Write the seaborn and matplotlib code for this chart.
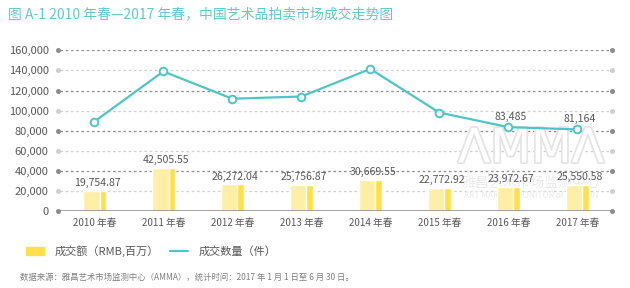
import numpy as np
import pandas as pd
import matplotlib.pyplot as plt
import seaborn as sns
from matplotlib import patheffects
from matplotlib.patches import Patch
from matplotlib.lines import Line2D

seasons = ['2010 年春', '2011 年春', '2012 年春', '2013 年春',
           '2014 年春', '2015 年春', '2016 年春', '2017 年春']
turnover = [19754.87, 42505.55, 26272.04, 25756.87,
            30669.55, 22772.92, 23972.67, 25550.58]
lots = [89000, 139000, 111800, 114000, 141500, 98000, 83485, 81164]
labelled_lots = [6, 7]  # only the last two points carry a label
yticks = [0, 20000, 40000, 60000, 80000, 100000, 120000, 140000, 160000]

title = '图 A-1 2010 年春—2017 年春，中国艺术品拍卖市场成交走势图'
source = '数据来源：雅昌艺术市场监测中心（AMMA），统计时间：2017 年 1 月 1 日至 6 月 30 日。'

sns.set_style('white')
plt.rcParams['font.family'] = ['Noto Sans CJK SC', 'DejaVu Sans']

teal = '#4EC5C7'
pale = '#FFEFA6'
gold = '#FFE04A'
grey = '#595959'

df = pd.DataFrame({'season': seasons, 'turnover': turnover, 'lots': lots})
x = np.arange(len(seasons))

fig = plt.figure(figsize=(6.3, 2.88), dpi=100)
ax = fig.add_axes([0.095, 0.268, 0.876, 0.557])

# gridlines, alternating dark / light, with a dot at each end
for i, t in enumerate(yticks[1:], start=1):
    c = '#8c8c8c' if i % 2 == 0 else '#cfcfcf'
    ax.axhline(t, color=c, lw=0.9, ls=(0, (2, 2.2)), zorder=0)
    ax.plot([-0.52, 7.5], [t, t], 'o', ms=2.6, color=c, clip_on=False, zorder=0)
ax.axhline(0, color='#8c8c8c', lw=1.1, zorder=3)
ax.plot([-0.52, 7.5], [0, 0], 'o', ms=2.6, color='#8c8c8c', clip_on=False, zorder=3)

# watermark
wm = fig.transFigure
ax.text(0.843, 0.48, 'ΛMMΛ', transform=wm, ha='center', va='center',
        fontsize=34, color='white', family='DejaVu Sans', zorder=0.5,
        path_effects=[patheffects.withStroke(linewidth=2.5, foreground='#e4e4e4')])
ax.text(0.843, 0.365, '雅昌艺术市场监测中心', transform=wm, ha='center', va='center',
        fontsize=10, color='#ebebeb', zorder=0.5)
ax.text(0.843, 0.32, 'ART MARKET MONITOR of ARTRON', transform=wm, ha='center',
        va='center', fontsize=6, color='#ebebeb', zorder=0.5)

sns.barplot(data=df, x='season', y='turnover', color=pale, saturation=1,
            width=0.33, ax=ax, zorder=1)
ax.bar(x + 0.12, turnover, width=0.09, color=gold, zorder=1)

sns.lineplot(x=x, y=lots, color=teal, lw=1.6, marker='o', markersize=5.5,
             markerfacecolor='white', markeredgecolor=teal, markeredgewidth=1.4,
             ax=ax, clip_on=False, zorder=4)

for i, v in enumerate(turnover):
    ax.text(i + 0.04, v + 2800, f'{v:,.2f}', ha='center', va='bottom',
            fontsize=7.6, color=grey, zorder=5)
for i in labelled_lots:
    ax.text(i + 0.04, lots[i] + 5000, f'{lots[i]:,}', ha='center', va='bottom',
            fontsize=7.6, color=grey, zorder=5)

ax.set_xlim(-0.5, 7.5)
ax.set_ylim(0, 160000)
ax.set_yticks(yticks)
ax.set_yticklabels([f'{t:,}' for t in yticks])
ax.tick_params(axis='y', length=0, pad=8, labelsize=8, labelcolor=grey)
ax.tick_params(axis='x', length=0, pad=5, labelsize=7, labelcolor=grey)
ax.set_xlabel('')
ax.set_ylabel('')
sns.despine(ax=ax, left=True, bottom=True)

handles = [Patch(color=gold), Line2D([], [], color=teal, lw=1.6)]
fig.legend(handles, ['成交额（RMB,百万）', '成交数量（件）'], loc='center left',
           bbox_to_anchor=(0.025, 0.128), ncol=2, frameon=False, fontsize=8,
           labelcolor=grey, handlelength=1.6, handleheight=0.8,
           columnspacing=1.0, handletextpad=1.0)

fig.text(0.012, 0.951, title, fontsize=10, color='#62C9CC', va='center')
fig.text(0.032, 0.038, source, fontsize=6, color='#808080', va='center')

fig.savefig('out.png', dpi=100)
